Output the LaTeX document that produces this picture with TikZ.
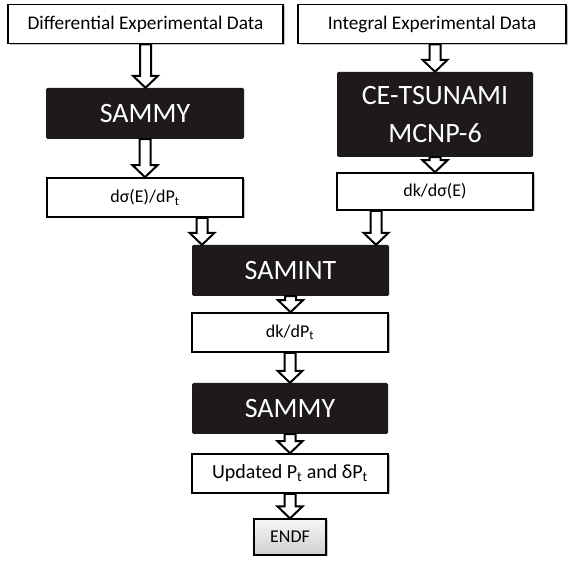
\documentclass[tikz,border=0pt]{standalone}
\usepackage{fontspec}
\setmainfont{Carlito}
\usepackage{tikz}
\usetikzlibrary{calc,shadows}
\definecolor{figink}{RGB}{30,26,26}
\definecolor{figshade}{RGB}{150,150,150}
\tikzset{
  wbox/.style ={draw=black, line width=1.6pt, fill=white, inner sep=0pt,
                minimum width=196pt, minimum height=39pt, font=\fontsize{18}{20}\selectfont,
                drop shadow={shadow xshift=1.5pt, shadow yshift=-1.5pt, fill=figshade, opacity=0.6}},
  bbox/.style ={fill=figink, text=white, rounded corners=1.5pt, inner sep=0pt,
                minimum width=196pt, minimum height=51pt, font=\fontsize{28}{33}\selectfont},
  gbox/.style ={draw=black, line width=1.2pt, top color=gray!6, bottom color=gray!38,
                inner sep=0pt, minimum width=72pt, minimum height=36pt,
                font=\fontsize{18}{20}\selectfont,
                drop shadow={shadow xshift=1.5pt, shadow yshift=-1.5pt, fill=figshade, opacity=0.6}},
  blk/.style  ={draw=black, fill=white, line width=2pt, line join=miter,
                to path={let \p1=(\tikztostart), \p2=(\tikztotarget) in
                  (\x1-5.5pt,\y1) -- (\x1-5.5pt,\y2+12pt) -- (\x1-12.5pt,\y2+12pt) -- (\x1,\y2)
                  -- (\x1+12.5pt,\y2+12pt) -- (\x1+5.5pt,\y2+12pt) -- (\x1+5.5pt,\y1) -- cycle}},
}
\begin{document}
\begin{tikzpicture}[x=1pt,y=1pt]
  \useasboundingbox (0,0) rectangle (569,561);
  % inputs
  \node[wbox,minimum width=275pt,font=\fontsize{19.3}{21}\selectfont] (diff) at (145.5,537) {Differential Experimental Data};
  \node[wbox,minimum width=268pt,font=\fontsize{19.3}{21}\selectfont] (integ) at (432,537) {Integral Experimental Data};
  % left branch
  \node[bbox,minimum width=198pt] (sammyA) at (145,447.5) {SAMMY};
  \node[wbox] (dsig) at (145,363.5) {dσ(E)/dP\textsubscript{t}};
  % right branch
  \node[bbox,minimum height=85pt,align=center,font=\fontsize{28}{38}\selectfont] (tsunami) at (435,446.5) {CE-TSUNAMI\\MCNP-6};
  \node[wbox,minimum height=37pt] (dkds) at (435,369.5) {dk/dσ(E)};
  % merged chain
  \node[bbox,minimum width=197pt] (samint) at (290.5,290.5) {SAMINT};
  \node[wbox] (dkdp) at (290,228.5) {dk/dP\textsubscript{t}};
  \node[bbox] (sammyB) at (290,152.5) {SAMMY};
  \node[wbox,font=\fontsize{20}{22}\selectfont] (upd) at (290,87.5) {Updated P\textsubscript{t} and δP\textsubscript{t}};
  \node[gbox] (endf) at (290,24) {ENDF};
  \coordinate (lft) at (202,0);
  \coordinate (rgt) at (376,0);
  % block arrows
  \draw[blk] (diff.south) to (sammyA.north);
  \draw[blk] (sammyA.south) to (dsig.north);
  \draw[blk] (integ.south -| tsunami.north) to (tsunami.north);
  \draw[blk] (tsunami.south) to (dkds.north);
  \draw[blk] (dsig.south -| lft) to (samint.north -| lft);
  \draw[blk] (dkds.south -| rgt) to (samint.north -| rgt);
  \draw[blk] (samint.south) to (dkdp.north);
  \draw[blk] (dkdp.south) to (sammyB.north);
  \draw[blk] (sammyB.south) to (upd.north);
  \draw[blk] (upd.south) to (endf.north);
\end{tikzpicture}
\end{document}
